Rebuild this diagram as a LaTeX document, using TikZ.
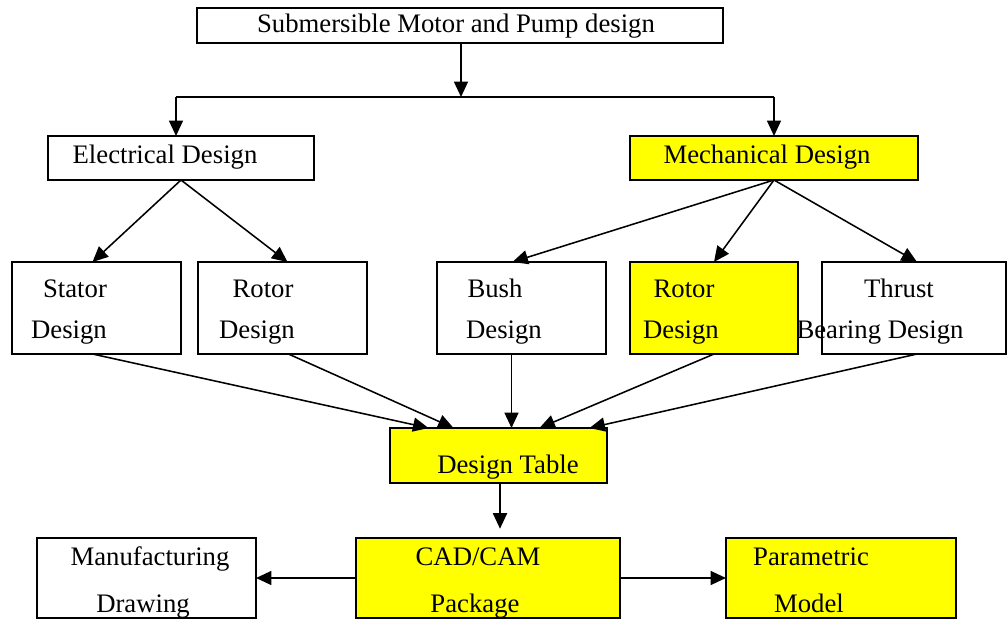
\documentclass[tikz,border=0pt]{standalone}
\usepackage{fontspec}
\setmainfont{Liberation Serif}
\usetikzlibrary{arrows.meta, calc}

\definecolor{hilite}{RGB}{255,255,0}

\begin{document}
\begin{tikzpicture}[x=0.025cm, y=-0.025cm,
	box/.style={draw, line width=1.1pt, inner sep=0pt, outer sep=0pt},
	mark box/.style={box, fill=hilite},
	txt/.style={anchor=base, inner sep=0pt, font=\fontsize{19}{22}\selectfont},
	arr/.style={-{Triangle[length=11pt, width=10pt]}, line width=1.1pt},
	link/.style={line width=1.1pt}]
	% frame of the page
	\useasboundingbox (0,0) rectangle (1008,619);
	
	% boxes
	\node[box, minimum width=13.15cm, minimum height=0.875cm] (top) at (460,25.5) {};
	\node[box, minimum width=6.65cm, minimum height=1.1cm] (elec) at (181,158) {};
	\node[mark box, minimum width=7.2cm, minimum height=1.1cm] (mech) at (774,158) {};
	
	\node[box, minimum width=4.225cm, minimum height=2.3cm] (stator) at (96.5,308) {};
	\node[box, minimum width=4.225cm, minimum height=2.3cm] (rotorE) at (282.5,308) {};
	\node[box, minimum width=4.225cm, minimum height=2.3cm] (bush) at (521.5,308) {};
	\node[mark box, minimum width=4.2cm, minimum height=2.3cm] (rotorM) at (714,308) {};
	\node[box, minimum width=4.6cm, minimum height=2.3cm] (thrust) at (914,308) {};
	
	\node[mark box, minimum width=5.425cm, minimum height=1.375cm] (table) at (498.5,455.5) {};
	
	\node[box, minimum width=5.475cm, minimum height=2cm] (manuf) at (146.5,578) {};
	\node[mark box, minimum width=6.6cm, minimum height=2cm] (cad) at (488,578) {};
	\node[mark box, minimum width=5.75cm, minimum height=2cm] (param) at (841,578) {};
	
	% texts
	\node[txt] (tTop) at (456,32) {Submersible Motor and Pump design};
	\node[txt] (tElec) at (165,163) {Electrical Design};
	\node[txt] (tMech) at (767,163) {Mechanical Design};
	\node[txt] (tStatorA) at (75,297) {Stator};
	\node[txt] (tStatorB) at (69,338) {Design};
	\node[txt] (tRotorEA) at (263,297) {Rotor};
	\node[txt] (tRotorEB) at (257,338) {Design};
	\node[txt] (tBushA) at (495,297) {Bush};
	\node[txt] (tBushB) at (504,338) {Design};
	\node[txt] (tRotorMA) at (684,297) {Rotor};
	\node[txt] (tRotorMB) at (681,338) {Design};
	\node[txt] (tThrustA) at (899,297) {Thrust};
	\node[txt] (tThrustB) at (880,338) {Bearing Design};
	\node[txt] (tTable) at (508,473) {Design Table};
	\node[txt] (tManufA) at (150,565) {Manufacturing};
	\node[txt] (tManufB) at (143,612) {Drawing};
	\node[txt] (tCadA) at (478,565) {CAD/CAM};
	\node[txt] (tCadB) at (475,612) {Package};
	\node[txt] (tParamA) at (811,565) {Parametric};
	\node[txt] (tParamB) at (809,612) {Model};
	
	% split under the title
	\coordinate (split) at (461,97);
	\coordinate (splitL) at (176,97);
	\coordinate (splitR) at (774,97);
	\draw[arr] (top.south -| split) -- (split);
	\draw[link] (splitL) -- (splitR);
	\draw[arr] (splitL) -- (splitL |- elec.north);
	\draw[arr] (splitR) -- (splitR |- mech.north);
	
	% design branches
	\draw[arr] (elec.south) -- ($(stator.north)+(-4,0)$);
	\draw[arr] (elec.south) -- ($(rotorE.north)+(5,0)$);
	\draw[arr] (mech.south) -- ($(bush.north)+(-9,0)$);
	\draw[arr] (mech.south) -- (rotorM.north);
	\draw[arr] (mech.south) -- ($(thrust.north)+(3,0)$);
	
	% into the design table
	\draw[arr] ($(stator.south)+(-4,0)$) -- ($(table.north)+(-70,0)$);
	\draw[arr] ($(rotorE.south)+(6,0)$) -- ($(table.north)+(-45,0)$);
	\draw[arr] ($(bush.south)+(-10,0)$) -- ($(table.north)+(13,0)$);
	\draw[arr] (rotorM.south) -- ($(table.north)+(41,0)$);
	\draw[arr] ($(thrust.south)+(3,0)$) -- ($(table.north)+(91,0)$);
	
	% output stage
	\draw[arr, shorten >=6\pgflinewidth] ($(table.south)+(1.5,0)$) -- ($(table.south |- cad.north)+(1.5,0)$);
	\draw[arr] (cad.west) -- (manuf.east);
	\draw[arr] (cad.east) -- (param.west);
	
\end{tikzpicture}
\end{document}
